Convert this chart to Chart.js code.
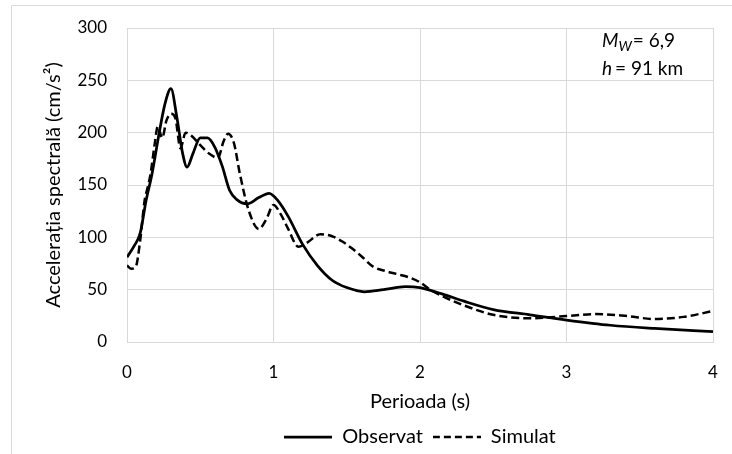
<!DOCTYPE html>
<html>
<head>
<meta charset="utf-8">
<script src="https://cdn.jsdelivr.net/npm/chart.js@4/dist/chart.umd.min.js"></script>
<style>
  html, body { margin: 0; padding: 0; background: #fff; }
  #wrap { width: 732px; height: 454px; position: relative; }
</style>
</head>
<body>
<div id="wrap"><canvas id="chart"></canvas></div>
<script>
// perioada (s) si acceleratia spectrala (cm/s2)
let obsT = [0, 0.05, 0.09, 0.13, 0.17, 0.22, 0.26, 0.30, 0.34, 0.38, 0.41, 0.45, 0.50, 0.55, 0.60, 0.65, 0.70, 0.75, 0.82, 0.90, 0.97, 1.03, 1.10, 1.20, 1.30, 1.40, 1.50, 1.62, 1.75, 1.90, 2.0, 2.15, 2.30, 2.50, 2.75, 3.0, 3.3, 3.6, 4.0];
let obsSa = [81, 92, 104, 135, 160, 200, 228, 242, 215, 180, 167, 180, 195, 195, 186, 168, 145, 136, 132, 138, 142, 135, 120, 93, 73, 59, 52, 48, 50, 53, 52, 46, 39, 31, 26, 21, 16, 13, 10];

let simT = [0, 0.03, 0.06, 0.09, 0.12, 0.14, 0.16, 0.19, 0.21, 0.24, 0.27, 0.30, 0.33, 0.365, 0.40, 0.44, 0.50, 0.56, 0.62, 0.66, 0.69, 0.73, 0.77, 0.83, 0.90, 0.95, 1.0, 1.05, 1.10, 1.17, 1.23, 1.32, 1.40, 1.47, 1.53, 1.60, 1.68, 1.76, 1.84, 1.92, 2.0, 2.07, 2.15, 2.30, 2.50, 2.75, 3.0, 3.2, 3.4, 3.6, 3.8, 4.0];
let simSa = [73, 70, 72, 97, 135, 147, 160, 190, 206, 195, 212, 218, 214, 185, 200, 197, 188, 180, 176, 192, 199, 190, 161, 126, 108, 117, 131, 122, 108, 91, 95, 103, 101, 96, 90, 82, 72, 68, 65, 62, 57, 50, 44, 35, 26, 22.6, 24.8, 26.7, 25, 22, 24, 29.6];

let xTicks = [0, 1, 2, 3, 4];
let yTicks = [0, 50, 100, 150, 200, 250, 300];

const FONT = "Lato, 'Open Sans', sans-serif";
const GRID = '#d9d9d9';

function pairs(xs, ys) {
    let out = [];
    xs.forEach((x, i) => out.push({ x: x, y: ys[i] }));
    return out;
}

// mostra de linie pentru legenda (plina sau intrerupta)
function lineSample(width, dash) {
    let c = document.createElement('canvas');
    c.width = 48;
    c.height = 6;
    let g = c.getContext('2d');
    g.strokeStyle = '#000';
    g.lineWidth = width;
    g.setLineDash(dash);
    g.beginPath();
    g.moveTo(0, 3);
    g.lineTo(48, 3);
    g.stroke();
    return c;
}

// fundal si rama (stanga + sus) ca in Excel
const frame = {
    id: 'frame',
    afterLayout(chart) {
        // legenda centrata sub zona graficului, ca in Excel
        let lg = chart.legend;
        lg.left = chart.chartArea.left;
        lg.right = chart.chartArea.right;
        lg.top += 3;
    },
    beforeDraw(chart) {
        let ctx = chart.ctx;
        ctx.save();
        ctx.fillStyle = '#fff';
        ctx.fillRect(0, 0, chart.width, chart.height);
        ctx.strokeStyle = GRID;
        ctx.lineWidth = 1;
        ctx.beginPath();
        ctx.moveTo(11.5, chart.height);
        ctx.lineTo(11.5, 5.5);
        ctx.lineTo(chart.width, 5.5);
        ctx.stroke();
        ctx.restore();
    }
};

// eticheta Mw si h
const note = {
    id: 'note',
    afterDraw(chart) {
        let ctx = chart.ctx;
        let a = chart.chartArea;
        ctx.save();
        ctx.fillStyle = '#000';
        ctx.textBaseline = 'alphabetic';
        let x = a.right - 111;
        let y1 = a.top + 19;
        ctx.font = 'italic 19px ' + FONT;
        ctx.fillText('M', x, y1);
        let w = ctx.measureText('M').width;
        ctx.font = 'italic 14px ' + FONT;
        ctx.fillText('W', x + w, y1 + 4);
        let w2 = ctx.measureText('W').width;
        ctx.font = '19px ' + FONT;
        ctx.fillText('= 6,9', x + w + w2 + 1, y1);

        let y2 = a.top + 47;
        ctx.font = 'italic 19px ' + FONT;
        ctx.fillText('h', x, y2);
        let wh = ctx.measureText('h').width;
        ctx.font = '19px ' + FONT;
        ctx.fillText('= 91 km', x + wh + 3, y2);
        ctx.restore();
    }
};

let ctxL = document.getElementById('chart').getContext('2d');
let chart = new Chart(ctxL, {
    type: 'line',
    data: {
        datasets: [{
                label: 'Observat',
                data: pairs(obsT, obsSa),
                borderColor: '#000',
                backgroundColor: '#000',
                borderWidth: 2.75,
                pointRadius: 0,
                pointStyle: lineSample(2.75, []),
                cubicInterpolationMode: 'monotone',
                fill: false
            },
            {
                label: 'Simulat',
                data: pairs(simT, simSa),
                borderColor: '#000',
                backgroundColor: '#000',
                borderWidth: 2.5,
                borderDash: [8, 4],
                pointRadius: 0,
                pointStyle: lineSample(2.5, [7, 4]),
                cubicInterpolationMode: 'monotone',
                fill: false
            }
        ]
    },
    options: {
        responsive: true,
        maintainAspectRatio: false,
        animation: false,
        layout: { padding: { left: 0, right: 19, top: 28, bottom: 0 } },
        plugins: {
            tooltip: { enabled: false },
            legend: {
                position: 'bottom',
                labels: {
                    color: '#000',
                    font: { family: FONT, size: 20 },
                    usePointStyle: true,
                    boxWidth: 48,
                    pointStyleWidth: 48,
                    padding: 10
                }
            }
        },
        scales: {
            x: {
                type: 'linear',
                min: 0,
                max: 4,
                afterBuildTicks: (s) => { s.ticks = xTicks.map(v => ({ value: v })); },
                afterFit: (s) => { s.height = 72; s.paddingLeft = 0; s.paddingRight = 0; },
                grid: { color: GRID, lineWidth: 1, drawTicks: false },
                border: { color: GRID },
                ticks: { color: '#000', font: { family: FONT, size: 17 }, padding: 20 },
                title: {
                    display: true,
                    text: 'Perioada (s)',
                    color: '#000',
                    font: { family: FONT, size: 20 },
                    padding: { top: 2, bottom: 0 }
                }
            },
            y: {
                min: 0,
                max: 300,
                afterBuildTicks: (s) => { s.ticks = yTicks.map(v => ({ value: v })); },
                afterFit: (s) => { s.width = 127; s.paddingTop = 0; s.paddingBottom = 0; },
                grid: { color: GRID, lineWidth: 1, drawTicks: false },
                border: { display: false },
                ticks: { color: '#000', font: { family: FONT, size: 17 }, padding: 20 },
                title: {
                    display: true,
                    text: 'Accelerația spectrală (cm/s²)',
                    color: '#000',
                    font: { family: FONT, size: 20 },
                    padding: { top: 42, bottom: 0 }
                }
            }
        }
    },
    plugins: [frame, note]
});
</script>
</body>
</html>
